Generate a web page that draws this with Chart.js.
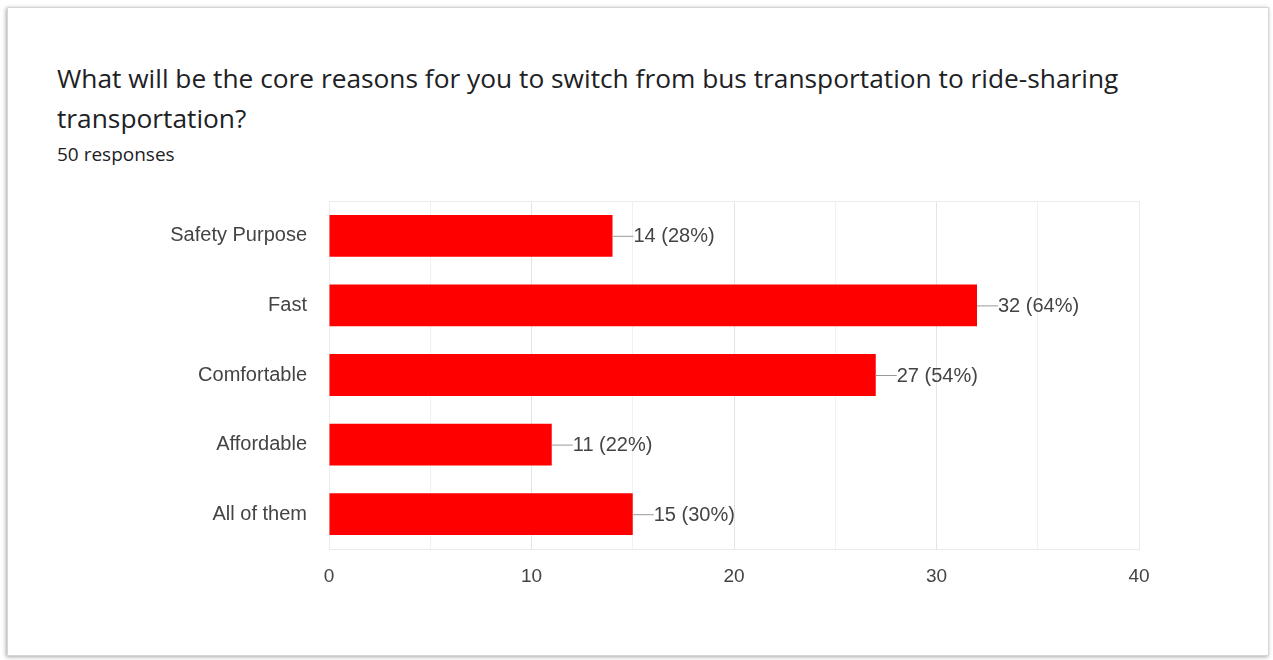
<!DOCTYPE html>
<html>
<head>
<meta charset="utf-8">
<script src="https://cdn.jsdelivr.net/npm/chart.js@4.4.0/dist/chart.umd.min.js"></script>
<style>
    html, body { margin: 0; padding: 0; background: #fff; }
    body { width: 1273px; height: 660px; position: relative; overflow: hidden; }
    .card {
        position: absolute; left: 7px; top: 7px; width: 1260px; height: 647px;
        border: 1px solid #d6d6d6; box-shadow: -1px 1px 4px rgba(0,0,0,0.35);
        background: #fff;
    }
    .title {
        position: absolute; left: 57px; top: 58px; width: 1190px;
        font-family: "Open Sans", sans-serif; font-size: 26.3px; line-height: 40px; color: #202124;
    }
    .sub {
        position: absolute; left: 57px; top: 142px;
        font-family: "Open Sans", sans-serif; font-size: 19px; line-height: 24px; color: #202124;
    }
    #chart { position: absolute; left: 0; top: 0; }
</style>
</head>
<body>
<div class="card"></div>
<div class="title">What will be the core reasons for you to switch from bus transportation to ride-sharing<br>transportation?</div>
<div class="sub">50 responses</div>
<canvas id="chart" width="1273" height="660"></canvas>
<script>
const categories = ['Safety Purpose', 'Fast', 'Comfortable', 'Affordable', 'All of them'];
const counts = [14, 32, 27, 11, 15];
const totalResponses = 50;
const xTicks = [0, 10, 20, 30, 40];

// value labels with a short leader line after each bar
const barLabels = {
    id: 'barLabels',
    afterDatasetsDraw(chart) {
        const ctx = chart.ctx;
        const meta = chart.getDatasetMeta(0);
        ctx.save();
        ctx.font = '20px "Liberation Sans", Arial, sans-serif';
        ctx.textBaseline = 'middle';
        ctx.fillStyle = '#444';
        meta.data.forEach((bar, i) => {
            const x = bar.x;
            const y = bar.y;
            ctx.strokeStyle = '#999';
            ctx.lineWidth = 1;
            ctx.beginPath();
            ctx.moveTo(x, y + 0.5);
            ctx.lineTo(x + 21, y + 0.5);
            ctx.stroke();
            const pct = Math.round(counts[i] / totalResponses * 100);
            ctx.fillText(`${counts[i]} (${pct}%)`, x + 21, y + 1);
        });
        ctx.restore();
    }
};

// light frame round the plot area
const plotFrame = {
    id: 'plotFrame',
    beforeDatasetsDraw(chart) {
        const a = chart.chartArea;
        const ctx = chart.ctx;
        ctx.save();
        ctx.strokeStyle = '#ebebeb';
        ctx.lineWidth = 1;
        ctx.strokeRect(a.left + 0.5, a.top + 0.5, a.right - a.left, a.bottom - a.top);
        ctx.restore();
    }
};

new Chart(document.getElementById('chart'), {
    type: 'bar',
    data: {
        labels: categories,
        datasets: [{
            data: counts,
            backgroundColor: '#ff0000',
            barPercentage: 0.6,
            categoryPercentage: 1
        }]
    },
    options: {
        indexAxis: 'y',
        responsive: false,
        animation: false,
        layout: { padding: { top: 201, right: 134, left: 0, bottom: 0 } },
        plugins: { legend: { display: false }, tooltip: { enabled: false } },
        scales: {
            x: {
                min: 0,
                max: 40,
                afterBuildTicks(scale) {
                    const t = [];
                    for (let v = 0; v <= 40; v += 5) t.push({ value: v });
                    scale.ticks = t;
                },
                afterFit(scale) { scale.height = 111; },
                grid: {
                    drawTicks: false,
                    color: c => (c.tick && c.tick.value % 10 === 0) ? '#e3e3e3' : '#f1f1f1'
                },
                border: { display: false },
                ticks: {
                    padding: 16,
                    color: '#444',
                    font: { family: '"Liberation Sans", Arial, sans-serif', size: 19 },
                    callback: v => xTicks.includes(v) ? String(v) : ''
                }
            },
            y: {
                afterFit(scale) { scale.width = 329; },
                grid: { display: false },
                border: { display: true, color: '#333', width: 1 },
                ticks: {
                    padding: 14,
                    color: '#444',
                    font: { family: '"Liberation Sans", Arial, sans-serif', size: 20 }
                }
            }
        }
    },
    plugins: [plotFrame, barLabels]
});
</script>
</body>
</html>
